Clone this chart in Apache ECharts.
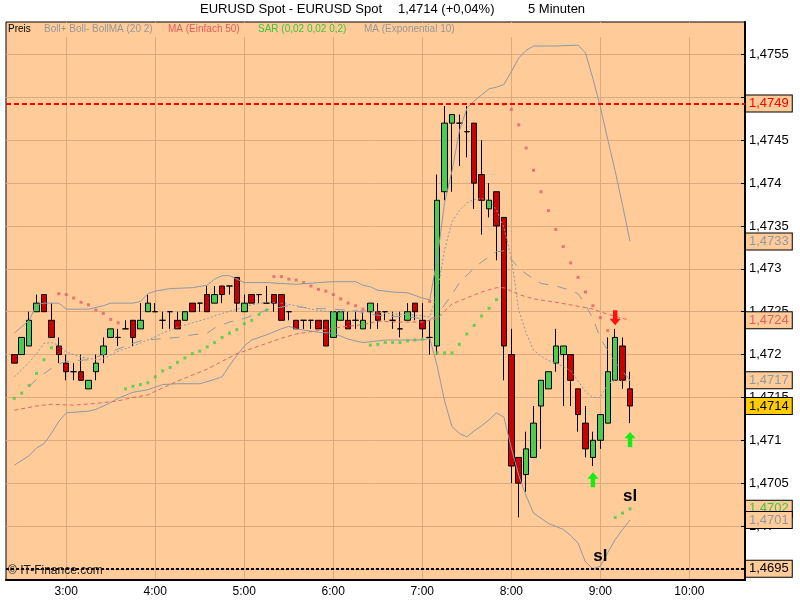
<!DOCTYPE html>
<html>
<head>
<meta charset="utf-8">
<script src="https://cdn.jsdelivr.net/npm/echarts@6/dist/echarts.min.js"></script>
<style>
html, body { margin: 0; padding: 0; background: #fff; }
#chart { width: 800px; height: 600px; }
</style>
</head>
<body>
<div id="chart"></div>
<script>
// 5 minute bars, first bar 2:25
var startMinute = 145, barMinutes = 5;

// one row per bar: [open, close, low, high]
var candles = [
  [1.4720,1.4719,1.4719,1.4720],[1.4720,1.4722,1.4720,1.4722],[1.4721,1.4724,1.4721,1.4725],[1.4725,1.4726,1.4725,1.4727],
  [1.4727,1.4725,1.4725,1.4727],[1.4724,1.4722,1.4722,1.4726],[1.4721,1.4720,1.4719,1.4722],[1.4719,1.4718,1.4717,1.4720],
  [1.4718,1.4718,1.4717,1.4719],[1.4718,1.4717,1.4717,1.4720],[1.4716,1.4717,1.4716,1.4717],[1.4718,1.4719,1.4717,1.4720],
  [1.4720,1.4721,1.4719,1.4722],[1.4722,1.4723,1.4722,1.4723],[1.4722,1.4722,1.4721,1.4723],[1.4723,1.4723,1.4723,1.4724],
  [1.4724,1.4722,1.4721,1.4724],[1.4723,1.4724,1.4723,1.4726],[1.4725,1.4726,1.4725,1.4727],[1.4725,1.4725,1.4725,1.4726],
  [1.4724,1.4724,1.4723,1.4725],[1.4725,1.4725,1.4723,1.4725],[1.4724,1.4723,1.4723,1.4725],[1.4724,1.4725,1.4724,1.4725],
  [1.4726,1.4725,1.4725,1.4726],[1.4726,1.4726,1.4725,1.4726],[1.4727,1.4725,1.4725,1.4728],[1.4726,1.4727,1.4726,1.4728],
  [1.4728,1.4727,1.4726,1.4728],[1.4728,1.4728,1.4727,1.4728],[1.4729,1.4726,1.4725,1.4729],[1.4725,1.4726,1.4725,1.4727],
  [1.4727,1.4726,1.4726,1.4727],[1.4727,1.4727,1.4726,1.4727],[1.4726,1.4726,1.4726,1.4728],[1.4727,1.4726,1.4725,1.4727],
  [1.4727,1.4724,1.4724,1.4727],[1.4725,1.4725,1.4724,1.4725],[1.4724,1.4723,1.4723,1.4724],[1.4724,1.4724,1.4723,1.4724],
  [1.4724,1.4724,1.4723,1.4724],[1.4724,1.4723,1.4723,1.4724],[1.4724,1.4721,1.4721,1.4724],[1.4722,1.4725,1.4722,1.4725],
  [1.4724,1.4725,1.4724,1.4725],[1.4724,1.4723,1.4723,1.4725],[1.4724,1.4724,1.4723,1.4725],[1.4723,1.4724,1.4723,1.4725],
  [1.4725,1.4726,1.4723,1.4726],[1.4725,1.4724,1.4723,1.4726],[1.4725,1.4725,1.4724,1.4725],[1.4724,1.4724,1.4723,1.4725],
  [1.4723,1.4723,1.4722,1.4725],[1.4724,1.4725,1.4724,1.4726],[1.4726,1.4725,1.4724,1.4726],[1.4724,1.4723,1.4722,1.4726],
  [1.4722,1.4722,1.4720,1.4724],[1.4721,1.4738,1.4720,1.4741],[1.4739,1.4747,1.4738,1.4749],[1.4747,1.4748,1.4739,1.4748],
  [1.4747,1.4747,1.4742,1.4748],[1.4746,1.4746,1.4743,1.4749],[1.4747,1.4740,1.4737,1.4747],[1.4741,1.4738,1.4734,1.4745],
  [1.4737,1.4738,1.4736,1.4740],[1.4739,1.4735,1.4731,1.4739],[1.4736,1.4721,1.4717,1.4736],[1.4720,1.4707,1.4705,1.4723],
  [1.4708,1.4705,1.4701,1.4708],[1.4706,1.4709,1.4704,1.4711],[1.4708,1.4712,1.4708,1.4714],[1.4714,1.4717,1.4709,1.4717],
  [1.4716,1.4718,1.4716,1.4718],[1.4719,1.4721,1.4718,1.4723],[1.4720,1.4721,1.4714,1.4721],[1.4720,1.4717,1.4714,1.4720],
  [1.4716,1.4713,1.4711,1.4716],[1.4712,1.4709,1.4708,1.4714],[1.4708,1.4710,1.4707,1.4711],[1.4710,1.4713,1.4709,1.4713],
  [1.4712,1.4718,1.4712,1.4722],[1.4717,1.4722,1.4717,1.4723],[1.4721,1.4717,1.4716,1.4722],[1.4716,1.4714,1.4712,1.4718]
];

// indicator lines: [bar index, value]
var bollUpper = [[0,1.47225],[2,1.4724],[3,1.47258],[4,1.4726],[6,1.4726],[7,1.47253],[10,1.47253],[12,1.47257],[13,1.4726],[16,1.4726],
  [17,1.47262],[18,1.47271],[19,1.47274],[21,1.47277],[24,1.47278],[26,1.47281],[27,1.47288],[28,1.47292],[29,1.47292],[31,1.47284],
  [34,1.47284],[38,1.47282],[41,1.47284],[43,1.47285],[46,1.47285],[47,1.47281],[48,1.47279],[49,1.47275],[51,1.47273],[53,1.47272],
  [55,1.47266],[56,1.47264],[57,1.47311],[58,1.47377],[59,1.47414],[60,1.47461],[61,1.47487],[62,1.47496],[63,1.47503],[64,1.4751],
  [65,1.47512],[66,1.47515],[67,1.4753],[68,1.47546],[69,1.47555],[70,1.4756],[73,1.4756],[76,1.47561],[77,1.47552],[78,1.47522],
  [79,1.47489],[80,1.47451],[81,1.47414],[82,1.47374],[83,1.47332]];
var bollLower = [[0,1.47071],[2,1.47082],[3,1.47091],[4,1.47096],[5,1.47108],[6,1.47122],[7,1.47132],[10,1.47134],[11,1.47136],[13,1.47144],
  [14,1.47149],[16,1.47156],[18,1.47159],[20,1.47165],[22,1.47166],[25,1.47166],[27,1.47171],[28,1.47174],[29,1.47187],[30,1.47199],
  [31,1.4721],[32,1.47217],[34,1.47223],[36,1.4723],[37,1.47233],[38,1.4723],[41,1.47226],[43,1.47225],[45,1.47218],[47,1.47214],
  [50,1.47217],[53,1.47217],[55,1.47217],[56,1.47219],[57,1.47187],[58,1.47146],[59,1.47116],[60,1.47108],[61,1.47104],[62,1.47111],
  [63,1.47117],[64,1.47124],[65,1.47132],[66,1.47127],[67,1.47091],[68,1.47059],[69,1.47035],[70,1.47015],[72,1.47003],[74,1.46996],
  [75,1.46989],[76,1.4698],[77,1.46958],[78,1.4695],[79,1.46953],[80,1.46969],[81,1.46984],[82,1.46996],[83,1.47007]];
var bollMid = [[2,1.47163],[3,1.47171],[5,1.47184],[6,1.47189],[7,1.47192],[10,1.47194],[13,1.47203],[15,1.4721],[17,1.47216],[19,1.47218],
  [22,1.4722],[24,1.47223],[26,1.47225],[27,1.47231],[29,1.47238],[31,1.47242],[34,1.47252],[37,1.47257],[40,1.47254],[43,1.47253],
  [46,1.47251],[48,1.47247],[50,1.47245],[53,1.47244],[56,1.47241],[57,1.47245],[58,1.47258],[59,1.4727],[60,1.47284],[62,1.47301],
  [63,1.47308],[65,1.4732],[66,1.47321],[68,1.47301],[69,1.47294],[71,1.47283],[73,1.4728],[75,1.47275],[76,1.47271],[77,1.47258],
  [78,1.47242],[79,1.47219],[80,1.47205],[81,1.47191],[83,1.4717]];
var ma50 = [[0,1.47135],[3,1.4714],[5,1.47142],[8,1.47141],[11,1.47143],[14,1.47146],[16,1.4715],[18,1.47153],[20,1.47161],[22,1.47169],
  [24,1.47176],[26,1.47183],[28,1.47192],[30,1.47201],[32,1.47207],[34,1.47213],[36,1.47219],[38,1.47224],[41,1.47228],[44,1.47232],
  [47,1.47235],[49,1.47239],[52,1.47238],[55,1.47238],[56,1.4724],[57,1.47242],[59,1.47259],[61,1.47266],[63,1.47273],[65,1.47278],
  [66,1.47278],[68,1.4727],[70,1.47265],[73,1.47261],[75,1.47258],[78,1.47253],[80,1.47247],[83,1.4724]];
var ema10 = [[0,1.47174],[2,1.47191],[3,1.47201],[4,1.47213],[5,1.47214],[6,1.47211],[7,1.47203],[9,1.47197],[11,1.47194],[12,1.47195],
  [14,1.47204],[16,1.4721],[18,1.47217],[20,1.47225],[22,1.47232],[24,1.47237],[26,1.47242],[28,1.47248],[30,1.47253],[32,1.47258],
  [34,1.47261],[36,1.4726],[38,1.47257],[40,1.47253],[42,1.4725],[44,1.4725],[46,1.47251],[48,1.47251],[50,1.47248],[52,1.47247],
  [54,1.47246],[55,1.47245],[56,1.47244],[57,1.47272],[58,1.47322],[59,1.47355],[60,1.47368],[61,1.47377],[62,1.47381],[63,1.47382],
  [64,1.4738],[65,1.47369],[66,1.47348],[67,1.47313],[68,1.47252],[69,1.47225],[70,1.47205],[71,1.47198],[72,1.47193],[73,1.4719],
  [74,1.47186],[75,1.47181],[76,1.47169],[77,1.47157],[78,1.4715],[79,1.4715],[80,1.47166],[81,1.4717],[82,1.47169],[83,1.4717]];

// parabolic SAR, one dot per bar
var sar = [1.47149,1.47155,1.47164,1.47178,1.47194,1.47208,1.47271,1.4727,1.47266,1.47261,1.47258,1.47252,1.47248,1.47241,1.47237,
  1.4716,1.47163,1.47165,1.47167,1.47174,1.47181,1.47185,1.47191,1.47196,1.47201,1.47204,1.47209,1.47214,1.4722,1.47225,1.47229,
  1.47236,1.4724,1.47247,1.47252,1.47291,1.47291,1.47288,1.47287,1.47284,1.4728,1.47276,1.47274,1.4727,1.47265,1.4726,1.47257,
  1.47253,1.47211,1.47212,1.47214,1.47214,1.47214,1.47216,1.47217,1.47218,1.47262,1.47202,1.47202,1.47202,1.47212,1.47224,1.47234,
  1.47245,1.47254,1.47264,1.47492,1.47486,1.47468,1.47441,1.47415,1.4739,1.47368,1.47346,1.47326,1.47307,1.4729,1.47273,1.47257,
  1.47243,1.47228,1.4701,1.47015,1.4702];

// horizontal levels: red line and black line
var levelHigh = 1.47493, levelLow = 1.4695;
// arrows and stop labels drawn on the chart: [bar index, price]
var arrowsDown = [[81,1.47243]];
var arrowsUp = [[78,1.47054],[83,1.47101]];
var stopMarks = [[83,1.47035],[79,1.46965]];

var priceTicks = [1.4695,1.47,1.4705,1.471,1.4715,1.472,1.4725,1.473,1.4735,1.474,1.4745,1.475,1.4755];
// 1,475 is covered by the level box in the reference, so it gets no label
var priceLabels = [1.4695,1.47,1.4705,1.471,1.4715,1.472,1.4725,1.473,1.4735,1.474,1.4745,1.4755];
var hourTicks = [180,240,300,360,420,480,540,600];

var FONT = '"Liberation Sans", Arial, sans-serif';
var PEACH = '#ffcc99';
var GRAY = '#8e99a6';

function t(i) { return startMinute + i * barMinutes; }
function fmt(v) { return String(+(+v).toFixed(4)).replace('.', ','); }
function hhmm(m) { var mm = m % 60; return Math.floor(m / 60) + ':' + (mm < 10 ? '0' : '') + mm; }
function pts(list) { return list.map(function (p) { return [t(p[0]), p[1]]; }); }
function last(list) { return list[list.length - 1][1]; }

function tagLabel(value, color, bg) {
  return {
    show: true, position: 'end', distance: 1, formatter: fmt(value),
    color: color, backgroundColor: bg || PEACH, borderColor: '#000', borderWidth: 1,
    padding: [2, 3, 1, 3], fontFamily: FONT, fontSize: 13
  };
}
function tag(value, color, bg) {
  return { yAxis: value, lineStyle: { color: 'rgba(0,0,0,0)', width: 0 }, label: tagLabel(value, color, bg) };
}
function tags(list) {
  return { silent: true, symbol: 'none', precision: 6, animation: false, data: list };
}

var lastClose = candles[candles.length - 1][1];

var candleData = candles.map(function (c, i) { return [t(i), c[0], c[1], c[2], c[3]]; });
var sarData = sar.map(function (v, i) {
  var above = v > candles[i][1];
  return { value: [t(i), v], itemStyle: { color: above ? '#e0606a' : '#44cc44' } };
});

var upPath = 'path://M5,0 L10,6 L7,6 L7,14 L3,14 L3,6 L0,6 Z';
var downPath = 'path://M3,0 L7,0 L7,8 L10,8 L5,14 L0,8 L3,8 Z';
var marks = [];
arrowsDown.forEach(function (a) {
  marks.push({ coord: [t(a[0]), a[1]], symbol: downPath, symbolSize: [11, 15], itemStyle: { color: '#ff1010' } });
});
arrowsUp.forEach(function (a) {
  marks.push({ coord: [t(a[0]), a[1]], symbol: upPath, symbolSize: [11, 15], itemStyle: { color: '#11ee11' } });
});
stopMarks.forEach(function (a) {
  marks.push({
    coord: [t(a[0]), a[1]], symbol: 'circle', symbolSize: 1, itemStyle: { color: 'rgba(0,0,0,0)' },
    label: { show: true, position: 'inside', formatter: 'sl', color: '#000', fontSize: 17, fontWeight: 'bold', fontFamily: FONT }
  });
});

var chart = echarts.init(document.getElementById('chart'));
chart.setOption({
  animation: false,
  backgroundColor: '#fff',
  grid: {
    left: 6, right: 55, top: 22, bottom: 20,
    show: true, backgroundColor: PEACH, borderColor: '#000', borderWidth: 1,
    outerBoundsMode: 'none'
  },
  xAxis: {
    type: 'value', min: 139.41, max: 637.5,
    axisLine: { show: true, onZero: false, lineStyle: { color: '#000', width: 2 } },
    axisTick: { show: false, customValues: hourTicks },
    axisLabel: {
      customValues: hourTicks, formatter: function (v) { return hhmm(v); },
      color: '#000', fontFamily: FONT, fontSize: 12, margin: 6
    },
    splitLine: { show: true, lineStyle: { color: '#dcaa7c', width: 1 } }
  },
  yAxis: {
    type: 'value', position: 'right', min: 1.46937, max: 1.47588, scale: true,
    axisLine: { show: true, lineStyle: { color: '#000', width: 2 } },
    axisTick: { show: true, inside: true, length: 4, customValues: priceTicks, lineStyle: { color: '#000' } },
    axisLabel: {
      customValues: priceLabels, formatter: fmt,
      color: '#000', fontFamily: FONT, fontSize: 13, margin: 4
    },
    splitLine: { show: true, lineStyle: { color: '#dcaa7c', width: 1 } }
  },
  graphic: [
    { type: 'text', left: 200, top: 3, style: { text: 'EURUSD Spot - EURUSD Spot', fill: '#000', font: '13px ' + FONT } },
    { type: 'text', left: 398, top: 3, style: { text: fmt(lastClose) + ' (+0,04%)', fill: '#000', font: '13px ' + FONT } },
    { type: 'text', left: 528, top: 3, style: { text: '5 Minuten', fill: '#000', font: '13px ' + FONT } },
    { type: 'rect', z: 1, shape: { x: 7, y: 23, width: 737, height: 14 }, style: { fill: PEACH } },
    { type: 'text', z: 2, left: 8, top: 24, style: { text: 'Preis', fill: '#000', font: '10px ' + FONT } },
    { type: 'text', z: 2, left: 44, top: 24, style: { text: 'Boll+ Boll- BollMA (20 2)', fill: '#979797', font: '10px ' + FONT } },
    { type: 'text', z: 2, left: 168, top: 24, style: { text: 'MA (Einfach 50)', fill: '#e05c5c', font: '10px ' + FONT } },
    { type: 'text', z: 2, left: 258, top: 24, style: { text: 'SAR (0,02 0,02 0,2)', fill: '#3cc43c', font: '10px ' + FONT } },
    { type: 'text', z: 2, left: 364, top: 24, style: { text: 'MA (Exponential 10)', fill: '#979797', font: '10px ' + FONT } },
    { type: 'text', z: 100, left: 8, top: 565, style: { text: '\u00a9 IT-Finance.com', fill: '#222', font: '12px ' + FONT } }
  ],
  series: [
    {
      name: 'Preis', type: 'candlestick', barWidth: 6,
      data: candleData,
      itemStyle: {
        color: '#4ccc4c', color0: '#cc0000',
        borderColor: '#000', borderColor0: '#000', borderColorDoji: '#000', borderWidth: 1
      },
      markLine: tags([
        { yAxis: levelHigh, lineStyle: { color: '#ff0000', width: 2, type: [5, 3] }, label: tagLabel(levelHigh, '#ff0000') },
        { yAxis: levelLow, lineStyle: { color: '#000', width: 2, type: [3, 2] }, label: tagLabel(levelLow, '#000') }
      ])
    },
    {
      name: 'Boll+', type: 'line', symbol: 'none', data: pts(bollUpper),
      lineStyle: { color: GRAY, width: 1 },
      markLine: tags([tag(last(bollUpper), GRAY)])
    },
    {
      name: 'Boll-', type: 'line', symbol: 'none', data: pts(bollLower),
      lineStyle: { color: GRAY, width: 1 }
    },
    {
      name: 'BollMA', type: 'line', symbol: 'none', data: pts(bollMid),
      lineStyle: { color: GRAY, width: 1, type: [10, 9] }
    },
    {
      name: 'MA 50', type: 'line', symbol: 'none', data: pts(ma50),
      lineStyle: { color: '#e06666', width: 1, type: [4, 3] },
      markLine: tags([tag(last(ma50), '#e06060')])
    },
    {
      name: 'SAR', type: 'scatter', symbol: 'rect', symbolSize: 3, data: sarData,
      markLine: tags([tag(sar[sar.length - 1], '#3cc43c'), tag(last(bollLower), GRAY)]),
      markPoint: { silent: true, data: marks }
    },
    {
      name: 'EMA 10', type: 'line', symbol: 'none', data: pts(ema10),
      lineStyle: { color: GRAY, width: 1, type: [2, 2] },
      markLine: tags([tag(last(ema10), GRAY), tag(lastClose, '#000', '#ffcc00')])
    }
  ]
});
</script>
</body>
</html>
